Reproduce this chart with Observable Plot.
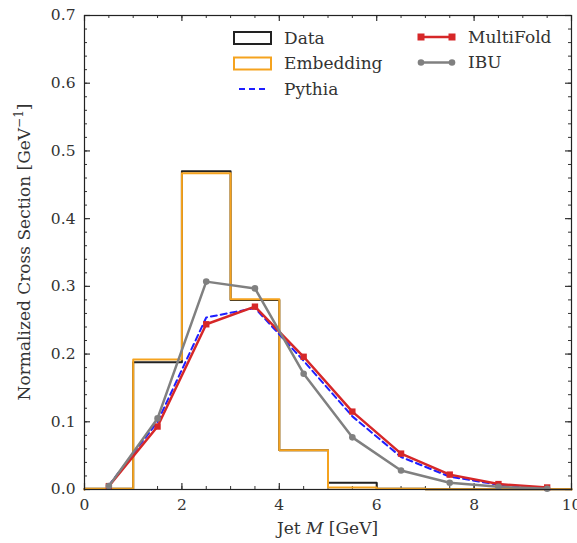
<!DOCTYPE html>
<html><head><meta charset="utf-8">
<script src="https://cdn.jsdelivr.net/npm/d3@7"></script>
<script src="https://cdn.jsdelivr.net/npm/@observablehq/plot@0.6"></script>
<style>body{margin:0;background:#fff}</style>
</head><body><div id="chart"></div>
<script>
const binEdges = [0,1,2,3,4,5,6,7,8,9,10];
const dataVals = [0.001,0.188,0.470,0.280,0.058,0.010,0.001,0.0005,0.0003,0.0002];
const embeddingVals = [0.001,0.192,0.467,0.281,0.058,0.003,0.001,0.0005,0.0003,0.0002];
const binCenters = [0.5,1.5,2.5,3.5,4.5,5.5,6.5,7.5,8.5,9.5];
const pythiaVals = [0.006,0.100,0.254,0.268,0.190,0.108,0.048,0.019,0.007,0.002];
const multifoldVals = [0.005,0.093,0.244,0.270,0.196,0.115,0.053,0.022,0.008,0.003];
const ibuVals = [0.005,0.105,0.307,0.297,0.171,0.077,0.028,0.010,0.004,0.001];
const xTicks = [0,2,4,6,8,10];
const yTicks = [0,0.1,0.2,0.3,0.4,0.5,0.6,0.7];
const legendLeft = ["Data","Embedding","Pythia"];
const legendRight = ["MultiFold","IBU"];

function stepPts(vals){
  const pts=[{x:binEdges[0],y:0}];
  vals.forEach((v,i)=>pts.push({x:binEdges[i],y:v}));
  pts.push({x:binEdges[binEdges.length-1],y:vals[vals.length-1]});
  pts.push({x:binEdges[binEdges.length-1],y:0});
  return pts;
}
const pts = (vals)=>binCenters.map((x,i)=>({x,y:vals[i]}));

const W=577,H=543,mL=84,mR=6,mT=15,mB=54;
const fw=W-mL-mR, fh=H-mT-mB;
const xMinor=d3.range(0,10.001,0.5), yMinor=d3.range(0,0.7001,0.02);
const RED="#d62728", ORANGE="#f5a31f", GRAY="#808080", BLUE="#1f1fff";

const plot = Plot.plot({
  width:W,height:H,marginLeft:mL,marginRight:mR,marginTop:mT,marginBottom:mB,
  style:{fontFamily:"DejaVu Serif",fontSize:"15.5px",color:"#333",background:"#fff"},
  x:{domain:[0,10]}, y:{domain:[0,0.7]},
  marks:[
    Plot.axisX({ticks:xTicks,tickSize:0,tickPadding:9,tickFormat:d=>String(d),label:null,fill:"#333"}),
    Plot.axisY({ticks:yTicks,tickSize:0,tickPadding:9,tickFormat:d=>d.toFixed(1),label:null,fill:"#333"}),
    Plot.tickX(xMinor,{x:d=>d,insetTop:fh-3,stroke:"#333"}),
    Plot.tickX(xMinor,{x:d=>d,insetBottom:fh-3,stroke:"#333"}),
    Plot.tickX(xTicks,{x:d=>d,insetTop:fh-6,stroke:"#333",strokeWidth:1.2}),
    Plot.tickX(xTicks,{x:d=>d,insetBottom:fh-6,stroke:"#333",strokeWidth:1.2}),
    Plot.tickY(yMinor,{y:d=>d,insetRight:fw-3,stroke:"#333"}),
    Plot.tickY(yMinor,{y:d=>d,insetLeft:fw-3,stroke:"#333"}),
    Plot.tickY(yTicks,{y:d=>d,insetRight:fw-6,stroke:"#333",strokeWidth:1.2}),
    Plot.tickY(yTicks,{y:d=>d,insetLeft:fw-6,stroke:"#333",strokeWidth:1.2}),
    Plot.line(stepPts(dataVals),{x:"x",y:"y",curve:"step-after",stroke:"#222",strokeWidth:2}),
    Plot.line(stepPts(embeddingVals),{x:"x",y:"y",curve:"step-after",stroke:ORANGE,strokeWidth:2}),
    Plot.line(pts(pythiaVals),{x:"x",y:"y",stroke:BLUE,strokeWidth:2,strokeDasharray:"6,4"}),
    Plot.line(pts(multifoldVals),{x:"x",y:"y",stroke:RED,strokeWidth:2.5}),
    Plot.dot(pts(multifoldVals),{x:"x",y:"y",symbol:"square",r:3.6,fill:RED}),
    Plot.line(pts(ibuVals),{x:"x",y:"y",stroke:GRAY,strokeWidth:2.5}),
    Plot.dot(pts(ibuVals),{x:"x",y:"y",r:3.3,fill:GRAY}),
    Plot.frame({stroke:"#222",strokeWidth:1.2})
  ]
});
document.getElementById("chart").appendChild(plot);

const svg=d3.select(plot);
// axis labels
const xl=svg.append("text").attr("x",mL+fw/2).attr("y",H-9).attr("text-anchor","middle").attr("fill","#333").attr("font-size",17);
xl.append("tspan").text("Jet ");
xl.append("tspan").attr("font-style","italic").text("M");
xl.append("tspan").text(" [GeV]");
const yl=svg.append("text").attr("transform",`translate(30,${mT+fh/2}) rotate(-90)`).attr("text-anchor","middle").attr("fill","#333").attr("font-size",17);
yl.append("tspan").text("Normalized Cross Section [GeV");
yl.append("tspan").attr("font-size",12).attr("dy",-7).text("−1");
yl.append("tspan").attr("dy",7).text("]");

// legend
const lg=svg.append("g").attr("font-size",17).attr("fill","#333").attr("text-anchor","start");
const rowY=[38,63.5,89];
legendLeft.forEach((name,i)=>{
  const y=rowY[i];
  if(name==="Pythia"){
    lg.append("line").attr("x1",239).attr("x2",265).attr("y1",y).attr("y2",y).attr("stroke",BLUE).attr("stroke-width",2).attr("stroke-dasharray","6,4");
  } else {
    lg.append("rect").attr("x",234).attr("y",y-6).attr("width",37).attr("height",12).attr("fill","none").attr("stroke",name==="Data"?"#222":ORANGE).attr("stroke-width",2);
  }
  lg.append("text").attr("x",284).attr("y",y).attr("dy","0.35em").text(name);
});
legendRight.forEach((name,i)=>{
  const y=rowY[i]-1; const c=name==="IBU"?GRAY:RED;
  lg.append("line").attr("x1",421).attr("x2",452).attr("y1",y).attr("y2",y).attr("stroke",c).attr("stroke-width",2.5);
  [421,452].forEach(x=>{
    if(name==="IBU") lg.append("circle").attr("cx",x).attr("cy",y).attr("r",3.3).attr("fill",c);
    else lg.append("rect").attr("x",x-3.5).attr("y",y-3.5).attr("width",7).attr("height",7).attr("fill",c);
  });
  lg.append("text").attr("x",468).attr("y",y).attr("dy","0.35em").text(name);
});
</script></body></html>
